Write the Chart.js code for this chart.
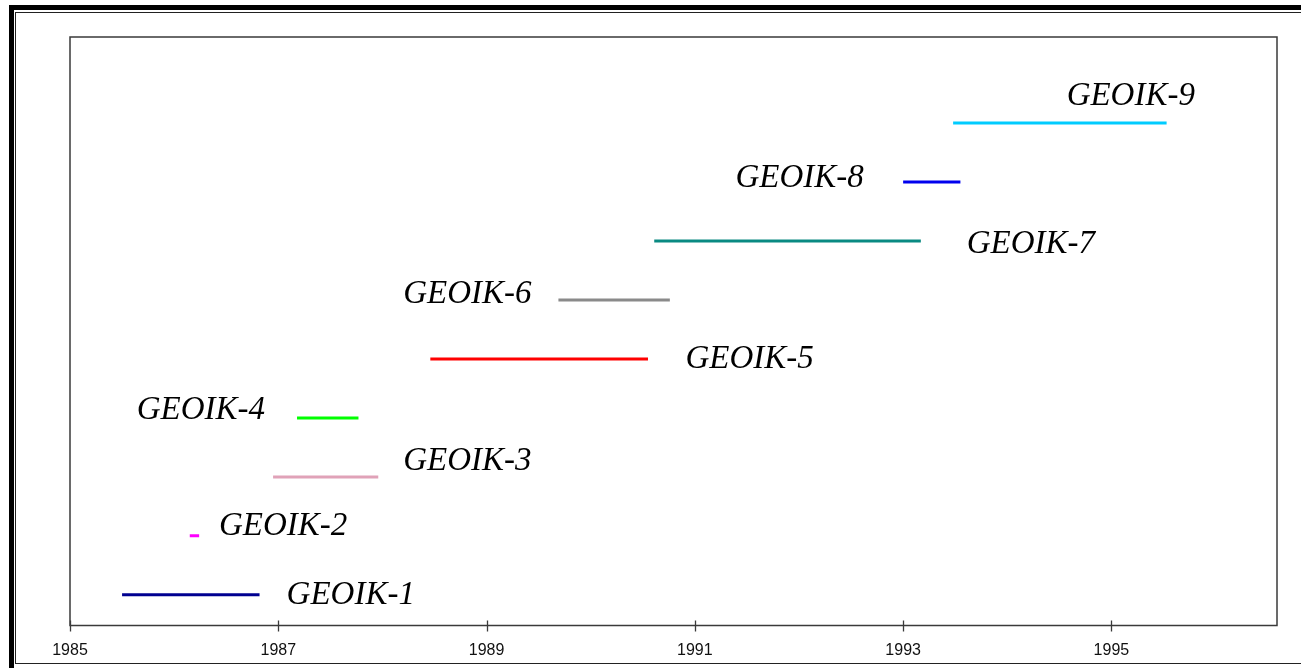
<!DOCTYPE html>
<html>
<head>
<meta charset="utf-8">
<script src="https://cdn.jsdelivr.net/npm/chart.js@4.4.1/dist/chart.umd.min.js"></script>
<style>
    html, body { margin: 0; padding: 0; background: #fff; overflow: hidden; }
    .frame-outer {
        position: absolute; left: 9px; top: 5px; width: 1400px; height: 670px;
        border: 5px solid #000; box-sizing: border-box;
    }
    .frame-inner {
        position: absolute; left: 15px; top: 12px; width: 1400px; height: 652px;
        border: 1.5px solid #222; box-sizing: border-box;
    }
    #chart { position: absolute; left: 0; top: 0; z-index: 2; }
</style>
</head>
<body>
<div class="frame-outer"></div>
<div class="frame-inner"></div>
<canvas id="chart" width="1301" height="668"></canvas>
<script>
    // Satellite names and active periods (decimal years)
    const satellites = ['GEOIK-1', 'GEOIK-2', 'GEOIK-3', 'GEOIK-4', 'GEOIK-5',
                        'GEOIK-6', 'GEOIK-7', 'GEOIK-8', 'GEOIK-9'];
    const startYears = [1985.50, 1986.15, 1986.95, 1987.18, 1988.46, 1989.69, 1990.61, 1993.00, 1993.48];
    const endYears   = [1986.82, 1986.24, 1987.96, 1987.77, 1990.55, 1990.76, 1993.17, 1993.55, 1995.53];
    const levels     = [1, 2, 3, 4, 5, 6, 7, 8, 9];
    const lineColors = ['#000090', '#ff00ff', '#e0a2b8', '#00ff00', '#ff0000',
                        '#8a8a8a', '#0a8a82', '#0000ee', '#00ccff'];

    // Label anchors: left edge of text (year) and vertical centre (level)
    const labelYears  = [1987.08, 1986.43, 1988.20, 1985.64, 1990.91, 1988.20, 1993.61, 1991.39, 1994.57];
    const labelLevels = [1.03, 2.20, 3.30, 4.17, 5.03, 6.13, 6.98, 8.10, 9.49];

    // Axis ticks
    const tickYears = [1985, 1987, 1989, 1991, 1993, 1995];
    const xMin = 1985, xMax = 1996.59;
    const yMin = 0.48, yMax = 10.46;

    const datasets = satellites.map((name, i) => ({
        label: name,
        data: [{ x: startYears[i], y: levels[i] }, { x: endYears[i], y: levels[i] }],
        borderColor: lineColors[i],
        borderWidth: 3,
        borderCapStyle: 'butt',
        pointRadius: 0,
        fill: false
    }));

    const frameAndLabels = {
        id: 'frameAndLabels',
        afterDatasetsDraw(chart) {
            const { ctx, chartArea: a, scales } = chart;
            const xs = scales.x, ys = scales.y;
            ctx.save();

            // plot box
            ctx.strokeStyle = '#3a3a3a';
            ctx.lineWidth = 1.5;
            ctx.strokeRect(a.left, a.top, a.right - a.left, a.bottom - a.top);

            // tick marks crossing the axis
            ctx.lineWidth = 1.3;
            tickYears.forEach(v => {
                const px = Math.round(xs.getPixelForValue(v)) + 0.5;
                ctx.beginPath();
                ctx.moveTo(px, a.bottom - 5);
                ctx.lineTo(px, a.bottom + 6);
                ctx.stroke();
            });

            // satellite labels
            ctx.fillStyle = '#000';
            ctx.font = 'italic 33px "Liberation Serif", "Times New Roman", serif';
            ctx.textAlign = 'left';
            ctx.textBaseline = 'alphabetic';
            satellites.forEach((name, i) => {
                const px = xs.getPixelForValue(labelYears[i]);
                const py = ys.getPixelForValue(labelLevels[i]);
                ctx.fillText(name, px, py + 11);
            });
            ctx.restore();
        }
    };

    new Chart(document.getElementById('chart'), {
        type: 'line',
        data: { datasets },
        options: {
            responsive: false,
            animation: false,
            devicePixelRatio: 1,
            layout: { padding: { left: 70, right: 24, top: 37, bottom: 0 } },
            plugins: {
                legend: { display: false },
                tooltip: { enabled: false }
            },
            scales: {
                x: {
                    type: 'linear',
                    min: xMin,
                    max: xMax,
                    afterBuildTicks: s => { s.ticks = tickYears.map(v => ({ value: v })); },
                    afterFit: s => { s.height = 42.5; },
                    grid: { display: false, drawTicks: false },
                    border: { display: false },
                    ticks: {
                        padding: 15,
                        maxRotation: 0,
                        autoSkip: false,
                        color: '#111',
                        font: { family: 'Arial, "Liberation Sans", sans-serif', size: 16 },
                        callback: v => String(v)
                    }
                },
                y: {
                    type: 'linear',
                    display: false,
                    min: yMin,
                    max: yMax
                }
            }
        },
        plugins: [frameAndLabels]
    });
</script>
</body>
</html>
